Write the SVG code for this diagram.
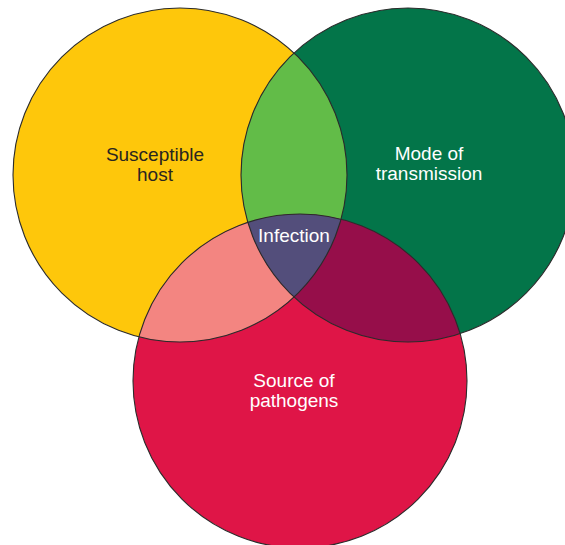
<svg xmlns="http://www.w3.org/2000/svg" width="565" height="545" viewBox="0 0 565 545">
  <style>
    .outline { fill: none; stroke: #2b2b2b; stroke-width: 1.1; }
    .lbl { font-family: "Liberation Sans", Arial, sans-serif; font-size: 19px; text-anchor: middle; }
    .dark { fill: #2a2520; }
    .light { fill: #ffffff; }
  </style>
  <defs>
    <clipPath id="cY"><circle cx="180" cy="175" r="167"/></clipPath>
    <clipPath id="cG"><circle cx="408" cy="175" r="167"/></clipPath>
    <clipPath id="cR"><circle cx="300" cy="381" r="167"/></clipPath>
  </defs>
  <rect width="565" height="545" fill="#ffffff"/>

  <g id="node-host">
    <circle cx="180" cy="175" r="167" fill="#fec70b"/>
  </g>
  <g id="node-transmission">
    <circle cx="408" cy="175" r="167" fill="#037549"/>
  </g>
  <g id="node-source">
    <circle cx="300" cy="381" r="167" fill="#df1547"/>
  </g>

  <g id="overlaps">
    <circle cx="408" cy="175" r="167" fill="#62bc48" clip-path="url(#cY)"/>
    <circle cx="300" cy="381" r="167" fill="#f38581" clip-path="url(#cY)"/>
    <circle cx="300" cy="381" r="167" fill="#960e4a" clip-path="url(#cG)"/>
    <g clip-path="url(#cY)">
      <circle id="node-infection" cx="300" cy="381" r="167" fill="#534e7b" clip-path="url(#cG)"/>
    </g>
  </g>

  <g id="outlines">
    <circle class="outline" cx="180" cy="175" r="167"/>
    <circle class="outline" cx="408" cy="175" r="167"/>
    <circle class="outline" cx="300" cy="381" r="167"/>
  </g>

  <g id="labels">
    <text class="lbl dark" x="155" y="161">Susceptible</text>
    <text class="lbl dark" x="155" y="181">host</text>
    <text class="lbl light" x="429" y="160">Mode of</text>
    <text class="lbl light" x="429" y="180">transmission</text>
    <text class="lbl light" x="294" y="242">Infection</text>
    <text class="lbl light" x="294" y="387">Source of</text>
    <text class="lbl light" x="294" y="407">pathogens</text>
  </g>
</svg>
